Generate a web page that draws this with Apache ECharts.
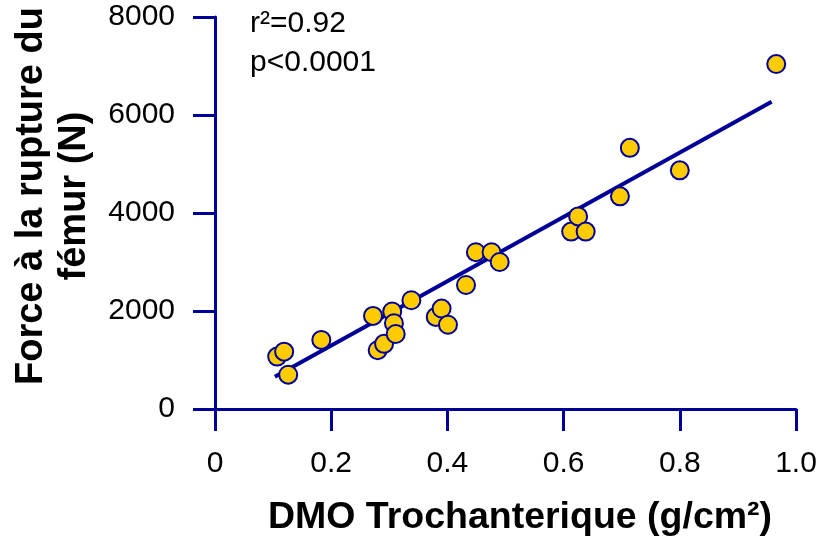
<!DOCTYPE html>
<html>
<head>
<meta charset="utf-8">
<script src="https://cdn.jsdelivr.net/npm/echarts@6/dist/echarts.min.js"></script>
<style>
  html, body { margin: 0; padding: 0; background: #fff; }
  #chart { width: 817px; height: 541px; }
</style>
</head>
<body>
<div id="chart"></div>
<script>
// Trochanteric BMD (g/cm²) vs femoral failure load (N)
const bmd = [0.107, 0.119, 0.126, 0.183, 0.272, 0.280, 0.291, 0.305, 0.308, 0.311,
             0.338, 0.380, 0.390, 0.401, 0.432, 0.449, 0.476, 0.490,
             0.613, 0.625, 0.638, 0.697, 0.714, 0.800, 0.966];
const force = [1070, 1170, 700, 1410, 1900, 1200, 1330, 1990, 1750, 1530,
               2220, 1880, 2050, 1720, 2530, 3200, 3200, 3000,
               3620, 3930, 3620, 4340, 5330, 4870, 7040];

// Regression line end points
const fitX = [0.103, 0.958];
const fitY = [660, 6270];

const xTicks = [0, 0.2, 0.4, 0.6, 0.8, 1.0];
const yTicks = [0, 2000, 4000, 6000, 8000];
const statLines = ['r²=0.92', 'p<0.0001'];
const xTitle = 'DMO Trochanterique (g/cm²)';
const yTitle = 'Force à la rupture du\nfémur (N)';

const navy = '#000099';
const font = '"Liberation Sans", Arial, sans-serif';

const chart = echarts.init(document.getElementById('chart'), null, { renderer: 'canvas' });

chart.setOption({
  animation: false,
  backgroundColor: '#fff',
  grid: { left: 215, right: 21, top: 17, bottom: 132, containLabel: false, outerBoundsMode: 'none' },
  xAxis: {
    type: 'value',
    min: xTicks[0],
    max: xTicks[xTicks.length - 1],
    interval: xTicks[1] - xTicks[0],
    axisLine: { lineStyle: { color: navy, width: 3 } },
    axisTick: { show: true, inside: false, length: 22, lineStyle: { color: navy, width: 3 } },
    axisLabel: {
      margin: 40,
      fontFamily: font, fontSize: 30, color: '#000',
      formatter: v => (v === 0 ? '0' : v.toFixed(1))
    },
    splitLine: { show: false }
  },
  yAxis: {
    type: 'value',
    min: yTicks[0],
    max: yTicks[yTicks.length - 1],
    interval: yTicks[1] - yTicks[0],
    axisLine: { show: true, lineStyle: { color: navy, width: 3 } },
    axisTick: { show: true, inside: false, length: 22, lineStyle: { color: navy, width: 3 } },
    axisLabel: { margin: 40, fontFamily: font, fontSize: 30, color: '#000', formatter: v => String(v) },
    splitLine: { show: false }
  },
  graphic: [
    // axis titles
    {
      type: 'text',
      x: 520, y: 518,
      style: {
        text: xTitle, font: 'bold 37.5px ' + font, fill: '#000',
        textAlign: 'center', textVerticalAlign: 'middle'
      }
    },
    {
      type: 'text',
      x: 53, y: 196,
      rotation: Math.PI / 2,
      style: {
        text: yTitle, font: 'bold 38px ' + font, fill: '#000',
        textAlign: 'center', textVerticalAlign: 'middle', lineHeight: 43
      }
    },
    // regression statistics
    ...statLines.map((t, i) => ({
      type: 'text',
      x: 250,
      y: 24 + i * 39,
      style: { text: t, font: '30px ' + font, fill: '#000', textVerticalAlign: 'middle' }
    }))
  ],
  series: [
    {
      type: 'line',
      data: fitX.map((x, i) => [x, fitY[i]]),
      symbol: 'none',
      lineStyle: { color: navy, width: 4 },
      z: 2
    },
    {
      type: 'scatter',
      data: bmd.map((x, i) => [x, force[i]]),
      symbol: 'circle',
      symbolSize: 18,
      itemStyle: { color: '#FFCC00', borderColor: navy, borderWidth: 2, opacity: 1 },
      z: 3
    }
  ]
});
</script>
</body>
</html>
